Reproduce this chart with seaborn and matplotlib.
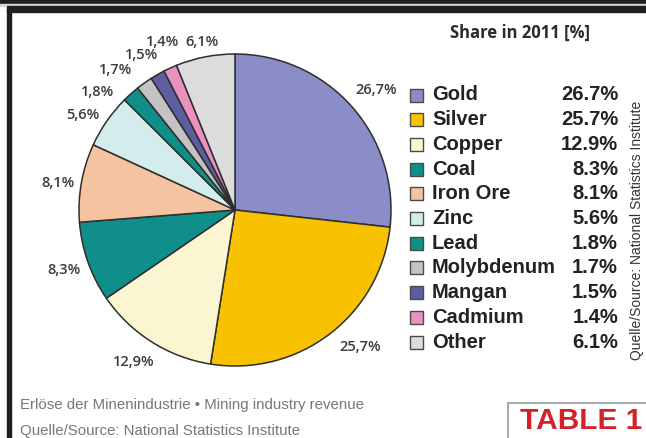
import numpy as np
import matplotlib
matplotlib.use("Agg")
import matplotlib.pyplot as plt
from matplotlib.patches import Rectangle
import seaborn as sns

# ── Data ────────────────────────────────────────────────────────────────────
metals = ["Gold", "Silver", "Copper", "Coal", "Iron Ore", "Zinc", "Lead",
          "Molybdenum", "Mangan", "Cadmium", "Other"]
shares = [26.7, 25.7, 12.9, 8.3, 8.1, 5.6, 1.8, 1.7, 1.5, 1.4, 6.1]
colors = ["#8B8DC8", "#F8C200", "#FBF5D2", "#108F8A", "#F5C39F", "#D3ECEC",
          "#108F8A", "#C3C3C3", "#5C5EA1", "#E991C0", "#DCDCDC"]

title = "Share in 2011 [%]"
caption_1 = "Erlöse der Minenindustrie \u2022 Mining industry revenue"
caption_2 = "Quelle/Source: National Statistics Institute"
side_note = "Quelle/Source: National Statistics Institute"

# label placement tweaks (distance in radii, angular nudge in degrees)
label_dist = [1.19, 1.19, 1.17, 1.16, 1.15, 1.15, 1.16, 1.18, 1.16, 1.17, 1.10]
label_nudge = [-1.5, 5, -1.5, 0, 1.5, 3, 7.5, 5, 1.5, -1.3, 0]

W, H = 646, 438

sns.set_theme(style="white")
plt.rcParams["font.family"] = ["Liberation Sans", "DejaVu Sans"]
palette = sns.color_palette(colors)


def px(x, y):
    return x / W, 1 - y / H


fig = plt.figure(figsize=(W / 100, H / 100), dpi=100)
fig.patch.set_facecolor("white")

# ── Frame ───────────────────────────────────────────────────────────────────
fig.patches.append(Rectangle(px(0, 4), 1, 4 / H, transform=fig.transFigure,
                             color="#1f1f1f", zorder=0))
fig.patches.append(Rectangle(px(0, 5.5), 1, 1.5 / H, transform=fig.transFigure,
                             color="#d8d8d8", zorder=0))
fig.patches.append(Rectangle(px(7, 12), 1, 6.5 / H, transform=fig.transFigure,
                             color="#1f1f1f", zorder=0))
fig.patches.append(Rectangle(px(7, H), 4 / W, (H - 9) / H, transform=fig.transFigure,
                             color="#1f1f1f", zorder=0))

# ── Pie ─────────────────────────────────────────────────────────────────────
cx, cy, r = 235, 210, 156
ax = fig.add_axes([(cx - r) / W, (H - cy - r) / H, 2 * r / W, 2 * r / H])
wedges, _ = ax.pie(shares, colors=palette, startangle=90, counterclock=False,
                   wedgeprops=dict(edgecolor="#2e2e2e", linewidth=1.1))
ax.set_xlim(-1, 1)
ax.set_ylim(-1, 1)
ax.set_aspect("equal")
ax.axis("off")

for w, val, d, nudge in zip(wedges, shares, label_dist, label_nudge):
    ang = np.deg2rad((w.theta1 + w.theta2) / 2 + nudge)
    ax.text(d * np.cos(ang), d * np.sin(ang), f"{val:.1f}%".replace(".", ","),
            ha="center", va="center", fontsize=10.5, color="#3a3a3a",
            family=["Open Sans", "DejaVu Sans"], fontweight="semibold",
            clip_on=False)

# ── Legend ──────────────────────────────────────────────────────────────────
fig.text(*px(520, 33), title, ha="center", va="center", fontsize=12,
         fontweight="bold", color="#2a2a2a", family=["Open Sans", "DejaVu Sans"])

y0, step = 95, 24.7
for i, (name, val, col) in enumerate(zip(metals, shares, palette)):
    y = y0 + i * step
    fig.patches.append(Rectangle(px(410, y + 6.5), 13 / W, 13 / H,
                                 transform=fig.transFigure, facecolor=col,
                                 edgecolor="#4a4a4a", linewidth=1.0))
    fig.text(*px(432, y), name, ha="left", va="center", fontsize=14.5,
             fontweight="bold", color="#222222")
    fig.text(*px(618, y), f"{val:.1f}%", ha="right", va="center", fontsize=14.5,
             fontweight="bold", color="#222222")

fig.text(*px(637, 230), side_note, rotation=90, ha="center", va="center",
         fontsize=10, color="#333333")

# ── Captions ────────────────────────────────────────────────────────────────
fig.text(*px(20, 405), caption_1, ha="left", va="center", fontsize=10.8,
         color="#777777")
fig.text(*px(20, 431), caption_2, ha="left", va="center", fontsize=10.8,
         color="#777777")

fig.patches.append(Rectangle(px(508, H + 5), 150 / W, (H + 5 - 403) / H,
                             transform=fig.transFigure, facecolor="white",
                             edgecolor="#9a9a9a", linewidth=1.2))
fig.text(*px(581, 421), "TABLE 1", ha="center", va="center", fontsize=21.5,
         fontweight="bold", color="#D42027")

fig.savefig("out.png", dpi=100)
